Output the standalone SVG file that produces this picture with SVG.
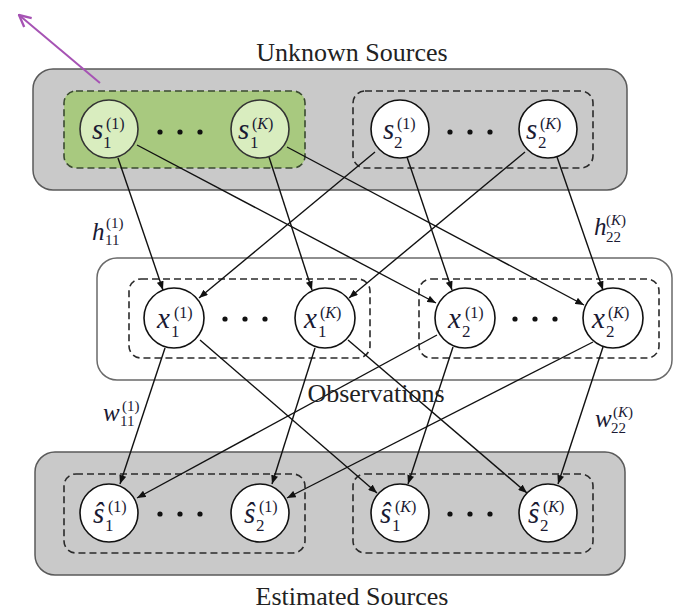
<svg xmlns="http://www.w3.org/2000/svg" width="675" height="612" viewBox="0 0 675 612">
<defs>
<style>
.panel{fill:#c9c9c9;stroke:#5a5a5a;stroke-width:1.5}
.obs{fill:#fff;stroke:#6a6a6a;stroke-width:1.5}
.grp{fill:none;stroke:#2a2a2a;stroke-width:1.6;stroke-dasharray:7,4}
.node{fill:#fff;stroke:#111;stroke-width:1.6}
.gnode{fill:#d9edbf;stroke:#333;stroke-width:1.6}
.dot{fill:#111}
.edge{stroke:#111;stroke-width:1.4;fill:none;marker-end:url(#ah)}
.title{font-family:"Liberation Serif",serif;font-size:26px;fill:#222}
.m{font-family:"Liberation Serif",serif;font-style:italic;font-size:29px;fill:#1a1a33}
.sb{font-family:"Liberation Serif",serif;font-size:17px;fill:#1a1a33}
.sp{font-family:"Liberation Serif",serif;font-size:16px;fill:#1a1a33}
.it{font-style:italic}
.lm{font-family:"Liberation Serif",serif;font-style:italic;font-size:25px;fill:#1a1a33}
.ls{font-family:"Liberation Serif",serif;font-size:15px;fill:#1a1a33}
</style>
<marker id="ah" viewBox="0 0 10 8" refX="10" refY="4" markerWidth="9" markerHeight="7" markerUnits="userSpaceOnUse" orient="auto"><path d="M0,0 L10,4 L0,8 z" fill="#111"/></marker>
<marker id="pa" viewBox="0 0 12 12" refX="11" refY="6" markerWidth="14" markerHeight="14" markerUnits="userSpaceOnUse" orient="auto"><path d="M1,1 L11,6 L1,11" fill="none" stroke="#a653b4" stroke-width="2"/></marker>
</defs>

<g id="panels">
<rect class="panel" x="33" y="69" width="594" height="121" rx="20"/>
<rect class="obs" x="97" y="258" width="575" height="122" rx="20"/>
<rect class="panel" x="35" y="452" width="590" height="123" rx="20"/>
<rect x="64" y="91" width="241" height="77" rx="12" fill="#a8c97f" stroke="#3a4a30" stroke-width="1.6" stroke-dasharray="7,4"/>
<rect class="grp" x="353" y="91" width="240" height="77" rx="12"/>
<rect class="grp" x="129" y="279" width="241" height="79" rx="12"/>
<rect class="grp" x="419" y="279" width="240" height="79" rx="12"/>
<rect class="grp" x="64" y="474" width="241" height="79" rx="12"/>
<rect class="grp" x="353" y="474" width="240" height="79" rx="12"/>
</g>

<g id="titles">
<text class="title" x="352" y="61" text-anchor="middle">Unknown Sources</text>
<text class="title" x="352" y="605" text-anchor="middle">Estimated Sources</text>
</g>

<g id="connectors">
<line x1="100" y1="83" x2="19" y2="15" stroke="#a653b4" stroke-width="2" marker-end="url(#pa)"/>
<line class="edge" x1="118" y1="158" x2="163" y2="290"/>
<line class="edge" x1="137" y1="145" x2="436" y2="303"/>
<line class="edge" x1="269" y1="157" x2="312" y2="290"/>
<line class="edge" x1="287" y1="147" x2="584" y2="305"/>
<line class="edge" x1="375" y1="152" x2="199" y2="298"/>
<line class="edge" x1="407" y1="157" x2="452" y2="290"/>
<line class="edge" x1="525" y1="152" x2="349" y2="298"/>
<line class="edge" x1="557" y1="157" x2="603" y2="290"/>
<line class="edge" x1="165" y1="348" x2="120" y2="484"/>
<line class="edge" x1="200" y1="340" x2="377" y2="493"/>
<line class="edge" x1="315" y1="348" x2="272" y2="484"/>
<line class="edge" x1="348" y1="340" x2="527" y2="493"/>
<line class="edge" x1="437" y1="335" x2="137" y2="498"/>
<line class="edge" x1="453" y1="347" x2="408" y2="484"/>
<line class="edge" x1="593" y1="342" x2="287" y2="498"/>
<line class="edge" x1="603" y1="347" x2="558" y2="484"/>
</g>

<g id="obs-label">
<text class="title" x="376" y="402" text-anchor="middle">Observations</text>
</g>

<g id="edge-labels">
<text class="lm" x="92" y="240">h</text><text class="ls" x="105" y="245">11</text><text class="ls" x="106" y="228">(1)</text>
<text class="lm" x="594" y="235">h</text><text class="ls" x="606" y="242">22</text><text class="ls" x="606" y="225">(<tspan class="it">K</tspan>)</text>
<text class="lm" x="103" y="421">w</text><text class="ls" x="120" y="426">11</text><text class="ls" x="122" y="411">(1)</text>
<text class="lm" x="595" y="427">w</text><text class="ls" x="611" y="433">22</text><text class="ls" x="613" y="417">(<tspan class="it">K</tspan>)</text>
</g>

<g id="s1_1"><circle class="gnode" cx="109" cy="129" r="29"/><text class="m" x="92" y="139">s</text><text class="sb" x="103" y="148">1</text><text class="sp" x="106" y="129">(1)</text></g>
<g id="dots_s1"><circle class="dot" cx="160" cy="132" r="2.6"/><circle class="dot" cx="180" cy="132" r="2.6"/><circle class="dot" cx="200" cy="132" r="2.6"/></g>
<g id="s1_K"><circle class="gnode" cx="260" cy="129" r="29"/><text class="m" x="238" y="139">s</text><text class="sb" x="250" y="148">1</text><text class="sp" x="252" y="129">(<tspan class="it">K</tspan>)</text></g>

<g id="s2_1"><circle class="node" cx="400" cy="129" r="29"/><text class="m" x="383" y="139">s</text><text class="sb" x="394" y="148">2</text><text class="sp" x="397" y="129">(1)</text></g>
<g id="dots_s2"><circle class="dot" cx="450" cy="132" r="2.6"/><circle class="dot" cx="470" cy="132" r="2.6"/><circle class="dot" cx="490" cy="132" r="2.6"/></g>
<g id="s2_K"><circle class="node" cx="548" cy="129" r="29"/><text class="m" x="526" y="139">s</text><text class="sb" x="538" y="148">2</text><text class="sp" x="540" y="129">(<tspan class="it">K</tspan>)</text></g>

<g id="x1_1"><circle class="node" cx="174" cy="318" r="30"/><text class="m" x="157" y="328">x</text><text class="sb" x="171" y="337">1</text><text class="sp" x="174" y="318">(1)</text></g>
<g id="dots_x1"><circle class="dot" cx="225" cy="319" r="2.6"/><circle class="dot" cx="245" cy="319" r="2.6"/><circle class="dot" cx="265" cy="319" r="2.6"/></g>
<g id="x1_K"><circle class="node" cx="325" cy="318" r="30"/><text class="m" x="304" y="328">x</text><text class="sb" x="318" y="337">1</text><text class="sp" x="320" y="318">(<tspan class="it">K</tspan>)</text></g>

<g id="x2_1"><circle class="node" cx="465" cy="318" r="30"/><text class="m" x="448" y="328">x</text><text class="sb" x="462" y="337">2</text><text class="sp" x="465" y="318">(1)</text></g>
<g id="dots_x2"><circle class="dot" cx="515" cy="319" r="2.6"/><circle class="dot" cx="535" cy="319" r="2.6"/><circle class="dot" cx="555" cy="319" r="2.6"/></g>
<g id="x2_K"><circle class="node" cx="613" cy="318" r="30"/><text class="m" x="592" y="328">x</text><text class="sb" x="606" y="337">2</text><text class="sp" x="608" y="318">(<tspan class="it">K</tspan>)</text></g>

<g id="sh1_1"><circle class="node" cx="109" cy="513" r="29"/><text class="m" x="93" y="523">ŝ</text><text class="sb" x="105" y="531">1</text><text class="sp" x="108" y="512">(1)</text></g>
<g id="dots_sh1"><circle class="dot" cx="160" cy="514" r="2.6"/><circle class="dot" cx="180" cy="514" r="2.6"/><circle class="dot" cx="200" cy="514" r="2.6"/></g>
<g id="sh2_1"><circle class="node" cx="260" cy="513" r="29"/><text class="m" x="244" y="523">ŝ</text><text class="sb" x="256" y="531">2</text><text class="sp" x="259" y="512">(1)</text></g>

<g id="sh1_K"><circle class="node" cx="400" cy="513" r="29"/><text class="m" x="380" y="523">ŝ</text><text class="sb" x="392" y="531">1</text><text class="sp" x="395" y="512">(<tspan class="it">K</tspan>)</text></g>
<g id="dots_sh2"><circle class="dot" cx="450" cy="514" r="2.6"/><circle class="dot" cx="470" cy="514" r="2.6"/><circle class="dot" cx="490" cy="514" r="2.6"/></g>
<g id="sh2_K"><circle class="node" cx="548" cy="513" r="29"/><text class="m" x="528" y="523">ŝ</text><text class="sb" x="540" y="531">2</text><text class="sp" x="543" y="512">(<tspan class="it">K</tspan>)</text></g>
</svg>
